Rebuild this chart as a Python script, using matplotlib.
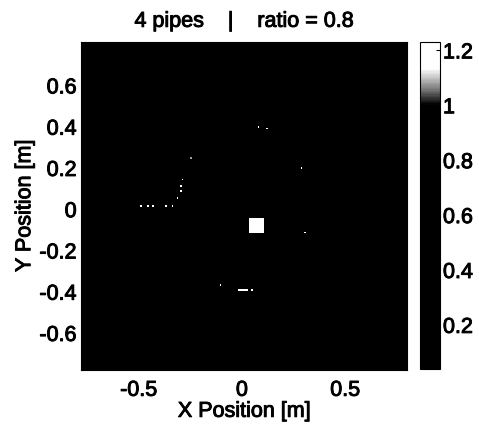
import numpy as np
import matplotlib
matplotlib.use("Agg")
import matplotlib.pyplot as plt
import matplotlib.patheffects as pe
from matplotlib.colors import LinearSegmentedColormap

plt.rcParams['font.family'] = ['Liberation Sans', 'DejaVu Sans']

# Grid of the measured field (metres)
cell = 0.008
x_range = (-0.78, 0.80)
y_range = (-0.78, 0.81)
background_level = 0.04
color_limits = (0.04, 1.23)

# Bright patch (square) near the centre
square_x = (0.04, 0.10)
square_y = (-0.11, -0.048)
square_level = 1.23

# Short bright streak below the centre
streak_x = (-0.02, 0.02)
streak_y = -0.39
streak_level = 1.2

# Isolated bright points
spot_x = [-0.49, -0.46, -0.43, -0.37, -0.34,
          -0.29, -0.295, -0.30, -0.31,
          -0.25, 0.08, 0.12, 0.29, 0.30, -0.107, 0.05]
spot_y = [0.015, 0.015, 0.015, 0.015, 0.015,
          0.145, 0.115, 0.085, 0.055,
          0.25, 0.40, 0.395, 0.20, -0.115, -0.365, -0.39]
spot_level = [1.2, 1.2, 1.2, 1.2, 1.2,
              1.2, 1.2, 1.2, 1.2,
              1.08, 1.15, 1.15, 1.15, 1.15, 1.15, 1.15]

cbar_ticks = [0.2, 0.4, 0.6, 0.8, 1.0, 1.2]
cbar_labels = ['0.2', '0.4', '0.6', '0.8', '1', '1.2']
x_ticks = [-0.5, 0, 0.5]
x_labels = ['-0.5', '0', '0.5']
y_ticks = [-0.6, -0.4, -0.2, 0, 0.2, 0.4, 0.6]
y_labels = ['-0.6', '-0.4', '-0.2', '0', '0.2', '0.4', '0.6']

nx = int(round((x_range[1] - x_range[0]) / cell))
ny = int(round((y_range[1] - y_range[0]) / cell))
field = np.full((ny, nx), background_level)


def to_col(x):
    return int(np.clip(np.floor((x - x_range[0]) / cell), 0, nx - 1))


def to_row(y):
    return int(np.clip(np.floor((y - y_range[0]) / cell), 0, ny - 1))


field[to_row(square_y[0]):to_row(square_y[1]) + 1,
      to_col(square_x[0]):to_col(square_x[1]) + 1] = square_level
field[to_row(streak_y), to_col(streak_x[0]):to_col(streak_x[1]) + 1] = streak_level
for x, y, v in zip(spot_x, spot_y, spot_level):
    field[to_row(y), to_col(x)] = v

cmap = LinearSegmentedColormap.from_list(
    'printed',
    [(0.0, (0, 0, 0)), (0.81, (0, 0, 0)), (0.86, (0.5, 0.5, 0.5)),
     (0.92, (1, 1, 1)), (1.0, (1, 1, 1))])

fs = 15.5
heavy = [pe.withStroke(linewidth=0.7, foreground='black')]

fig = plt.figure(figsize=(4.79, 4.31), dpi=100)
ax = fig.add_axes([0.169, 0.139, 0.681, 0.761])
cax = fig.add_axes([0.877, 0.142, 0.042, 0.758])

im = ax.imshow(field, origin='lower', cmap=cmap,
               vmin=color_limits[0], vmax=color_limits[1],
               extent=(x_range[0], x_range[1], y_range[0], y_range[1]),
               interpolation='nearest', aspect='auto')
ax.set_xlim(x_range)
ax.set_ylim(y_range)
ax.set_xticks(x_ticks)
ax.set_xticklabels(x_labels, fontsize=fs)
ax.set_yticks(y_ticks)
ax.set_yticklabels(y_labels, fontsize=fs)
ax.tick_params(axis='x', direction='in', length=3, color='black', pad=7)
ax.tick_params(axis='y', direction='in', length=3, color='black', pad=3)
ax.set_xlabel('X Position [m]', fontsize=fs, labelpad=0)
ax.set_ylabel('Y Position [m]', fontsize=fs, labelpad=3)
ax.set_title('4 pipes    |    ratio = 0.8', fontsize=fs, pad=11)

cb = fig.colorbar(im, cax=cax)
cb.set_ticks(cbar_ticks)
cb.set_ticklabels(cbar_labels)
for t in cb.ax.get_yticklabels():
    t.set_fontsize(fs)
cb.ax.tick_params(direction='in', length=3, pad=2)
cb.outline.set_linewidth(0.8)

texts = ([ax.title, ax.xaxis.label, ax.yaxis.label]
         + ax.get_xticklabels() + ax.get_yticklabels()
         + cb.ax.get_yticklabels())
for t in texts:
    t.set_path_effects(heavy)

fig.savefig('out.png', dpi=100)
